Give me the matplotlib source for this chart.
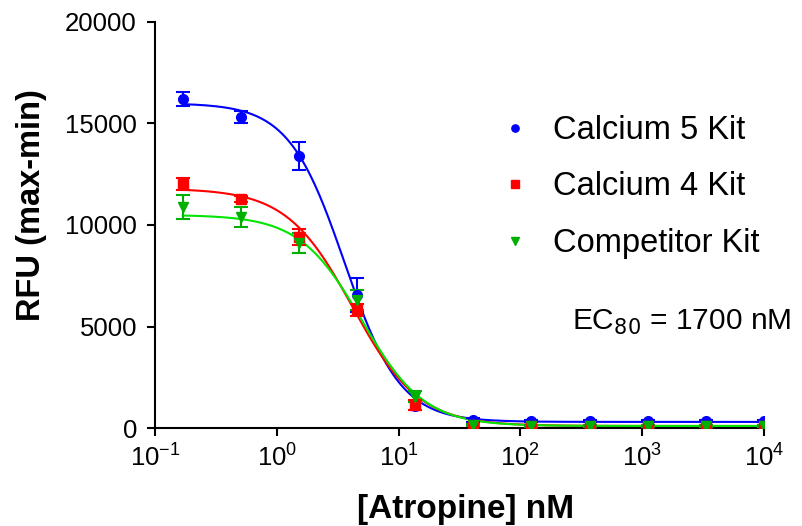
import numpy as np
import matplotlib
matplotlib.use("Agg")
import matplotlib.pyplot as plt

plt.rcParams['font.family'] = ['Liberation Sans', 'DejaVu Sans']

conc = [0.169, 0.508, 1.52, 4.57, 13.7, 41.2, 123, 370, 1111, 3333, 10000]

ca5 = [16200, 15300, 13400, 6550, 1100, 400, 350, 330, 330, 330, 330]
ca5_err = [350, 300, 700, 850, 200, 80, 50, 50, 50, 50, 50]
ca4 = [12000, 11300, 9400, 5800, 1150, 150, 120, 100, 100, 100, 100]
ca4_err = [300, 150, 400, 300, 250, 50, 50, 50, 50, 50, 50]
comp = [10900, 10400, 9100, 6300, 1550, 150, 100, 100, 100, 100, 100]
comp_err = [600, 500, 500, 500, 250, 50, 50, 50, 50, 50, 50]

# 4-parameter logistic fit parameters: top, bottom, IC50 (nM), Hill slope
fit_ca5 = [16000, 300, 3.6, 1.9]
fit_ca4 = [11800, 100, 4.2, 1.6]
fit_comp = [10500, 100, 5.0, 1.7]

labels = ["Calcium 5 Kit", "Calcium 4 Kit", "Competitor Kit"]

def logistic(x, p):
    top, bottom, ic50, h = p
    return bottom + (top - bottom) / (1 + (x / ic50) ** h)

fig = plt.figure(figsize=(8.02, 5.26), dpi=100)
ax = fig.add_axes([155/802, 1-428/526, (764-155)/802, (428-22)/526])

xs = np.logspace(np.log10(conc[0]), 4, 400)
series = [
    (ca5, ca5_err, fit_ca5, '#0000FF', '#0000FF', 'o', 7),
    (ca4, ca4_err, fit_ca4, '#FF0000', '#FF0000', 's', 7),
    (comp, comp_err, fit_comp, '#00B000', '#00E600', 'v', 7),
]
handles = []
for (y, e, p, mc, lc, m, ms), lab in zip(series, labels):
    ax.plot(xs, logistic(xs, p), color=lc, lw=1.5, zorder=2)
    ax.errorbar(conc, y, yerr=e, fmt='none', ecolor=mc, elinewidth=1.5,
                capsize=5, capthick=1.5, zorder=3)
    h, = ax.plot(conc, y, linestyle='none', marker=m, color=mc, ms=ms, zorder=4, label=lab)
    handles.append(h)

ax.set_xscale('log')
ax.set_xlim(0.1, 10000)
ax.set_ylim(0, 20000)
ax.set_yticks([0, 5000, 10000, 15000, 20000])
ax.set_xticks([0.1, 1, 10, 100, 1000, 10000])
ax.xaxis.set_minor_locator(matplotlib.ticker.NullLocator())
for s in ['top', 'right']:
    ax.spines[s].set_visible(False)
for s in ['left', 'bottom']:
    ax.spines[s].set_linewidth(1.5)
ax.tick_params(axis='both', direction='out', length=6, width=1.5, labelsize=18.5)
ax.tick_params(axis='y', pad=7)
ax.tick_params(axis='x', pad=6)

ax.set_ylabel("RFU (max-min)", fontsize=23.5, fontweight='bold')
ax.yaxis.set_label_coords(-0.177, 0.549)
ax.set_xlabel("[Atropine] nM", fontsize=24, fontweight='bold', va='top')
ax.xaxis.set_label_coords(0.51, -0.163)

leg = ax.legend(handles=handles, loc='upper left', bbox_to_anchor=(0.548, 0.803),
                frameon=False, fontsize=23.5, markerscale=0.75, handlelength=0.8,
                handletextpad=0.77, labelspacing=0.78, borderaxespad=0)

ax.text(572/802, 1-322/526, r"EC$_{80}$ = 1700 nM", transform=fig.transFigure,
        fontsize=21.5, ha='left', va='center')

fig.savefig("out.png", dpi=100)
